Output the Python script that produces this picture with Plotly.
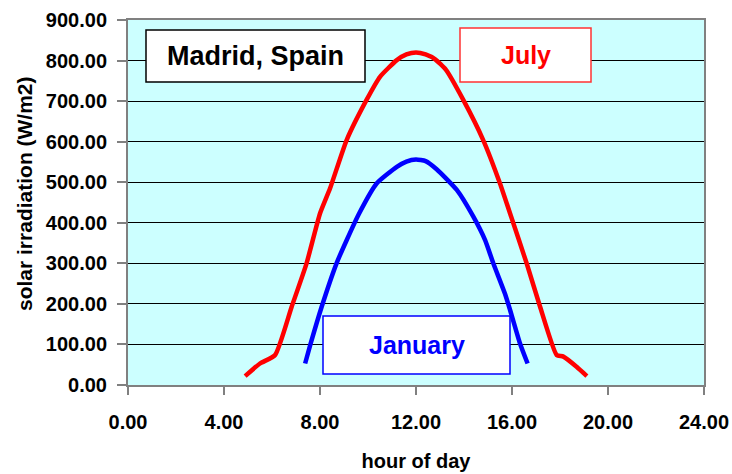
import plotly.graph_objects as go

# hour of day / solar irradiation (W/m2)
july_hours = [4.88, 5.5, 6.13, 6.82, 7.44, 8.0, 8.42, 9.11, 9.94, 10.5, 11.2, 11.6, 12.0,
              12.4, 12.8, 13.25, 13.97, 14.8, 15.5, 15.92, 16.61, 17.17, 17.86, 18.14, 18.69, 19.12]
july_irr = [22, 53, 74, 193, 300, 423, 485, 604, 703, 760, 801, 815, 820,
            815, 803, 777, 703, 604, 497, 423, 300, 193, 74, 70, 45, 22]

jan_hours = [7.38, 7.6, 8.07, 8.69, 9.11, 9.63, 10.36, 11.2, 11.6, 12.0, 12.4, 12.86, 13.7, 14.39,
             14.88, 15.22, 15.7, 15.92, 16.33, 16.65]
jan_irr = [53, 100, 193, 300, 357, 423, 497, 538, 551, 556, 552, 532, 481, 415,
           357, 300, 226, 185, 103, 53]

x_ticks = [0, 4, 8, 12, 16, 20, 24]
y_ticks = [0, 100, 200, 300, 400, 500, 600, 700, 800, 900]

FONT = "Liberation Sans, Arial, sans-serif"

fig = go.Figure()

fig.add_trace(go.Scatter(x=july_hours, y=july_irr, mode="lines", name="July",
                         line=dict(color="#FF0000", width=4.5, shape="spline", smoothing=0.5)))
fig.add_trace(go.Scatter(x=jan_hours, y=jan_irr, mode="lines", name="January",
                         line=dict(color="#0000FF", width=4.5, shape="spline", smoothing=0.5)))

# boxed labels (pixel boxes inside the 576x365 plot area)
boxes = [
    ("Madrid, Spain", "black", "black", 146, 365, 30, 82, 27),
    ("July", "#FF0000", "#FF3333", 460, 591, 28, 82, 25),
    ("January", "#0000FF", "#0000FF", 323, 510, 316, 374, 25),
]
for text, tcol, bcol, x0, x1, y0, y1, size in boxes:
    fig.add_shape(type="rect", xref="paper", yref="paper",
                  x0=(x0 - 128) / 576, x1=(x1 - 128) / 576,
                  y0=(385 - y1) / 365, y1=(385 - y0) / 365,
                  fillcolor="white", line=dict(color=bcol, width=1.5), layer="above")
    fig.add_annotation(text=text, xref="paper", yref="paper",
                       x=((x0 + x1) / 2 - 128) / 576, y=(385 - (y0 + y1) / 2) / 365,
                       showarrow=False, xanchor="center", yanchor="middle",
                       font=dict(family=FONT, size=size, color=tcol, weight="bold"))

# y axis title, sitting a little above the middle as in the original
fig.add_annotation(text="solar irradiation (W/m2)", xref="paper", yref="paper",
                   x=(24 - 128) / 576, y=(385 - 194) / 365, textangle=-90,
                   showarrow=False, xanchor="center", yanchor="middle",
                   font=dict(family=FONT, size=21, color="black", weight="bold"))

fig.update_layout(
    width=732,
    height=474,
    margin=dict(l=128, r=28, t=20, b=89),
    paper_bgcolor="white",
    plot_bgcolor="#CCFFFF",
    showlegend=False,
    font=dict(family=FONT, color="black"),
    xaxis=dict(
        range=[0, 24], tickvals=x_ticks, tickformat=".2f", automargin=False,
        showgrid=False, zeroline=False,
        showline=True, linecolor="#808080", linewidth=2, mirror=True,
        ticks="outside", ticklen=8, tickwidth=2, tickcolor="#808080",
        ticklabelstandoff=10,
        tickfont=dict(family=FONT, size=20, color="black", weight="bold"),
        title=dict(text="hour of day", standoff=22,
                   font=dict(family=FONT, size=20, color="black", weight="bold")),
    ),
    yaxis=dict(
        range=[0, 900], tickvals=y_ticks, tickformat=".2f", automargin=False,
        showgrid=True, gridcolor="black", gridwidth=1, zeroline=False,
        showline=True, linecolor="#808080", linewidth=2, mirror=True,
        ticks="outside", ticklen=9, tickwidth=2, tickcolor="#808080",
        ticklabelstandoff=6,
        tickfont=dict(family=FONT, size=20, color="black", weight="bold"),
    ),
)

# the page body has a default 8px margin; drop it so the figure fills the window
fig.write_html("out.html", config={"displayModeBar": False},
               post_script="document.body.style.margin='0';")
